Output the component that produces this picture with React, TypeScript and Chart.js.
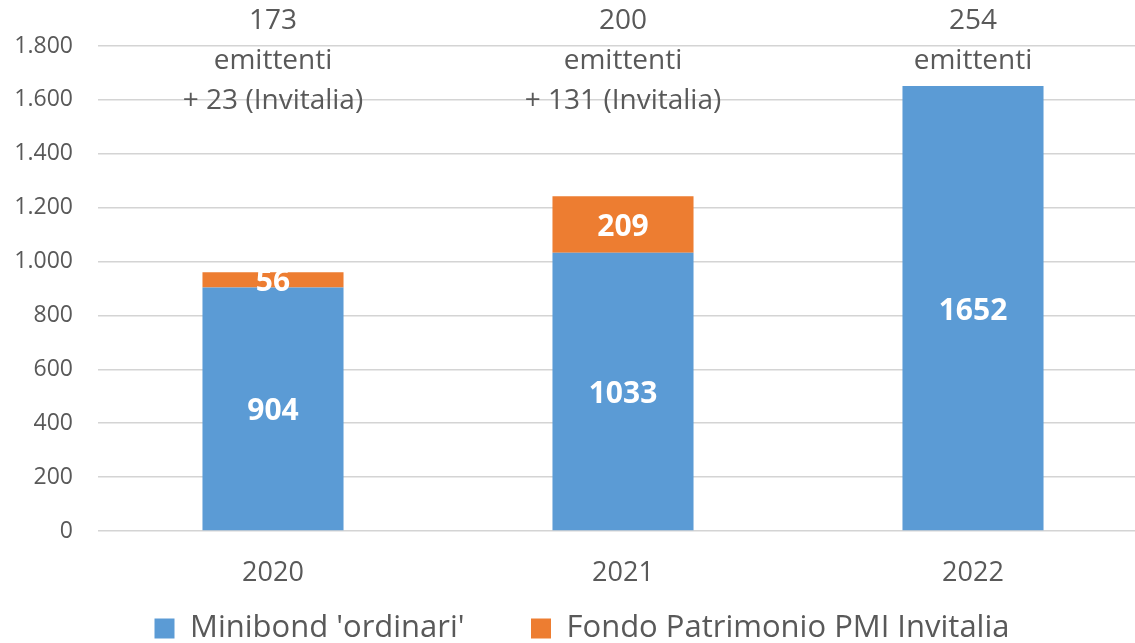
import React, { useEffect, useRef } from "react";
import { Chart, registerables } from "chart.js";

Chart.register(...registerables);

const categories = ["2020", "2021", "2022"];
const minibondOrdinari = [904, 1033, 1652];
const fondoInvitalia = [56, 209, 0];
const issuerCounts = ["173", "200", "254"];
const issuerWord = "emittenti";
const invitaliaExtra = ["+ 23 (Invitalia)", "+ 131 (Invitalia)", ""];
const seriesNames = ["Minibond 'ordinari'", "Fondo Patrimonio PMI Invitalia"];
const yTickMax = 1800;
const yTickStep = 200;

const FONT = "'Open Sans'";
const TEXT = "#595959";

function fmt(v: number): string {
  return String(v).replace(/\B(?=(\d{3})+(?!\d))/g, ".");
}

const dataLabelPlugin = {
  id: "dataLabels",
  afterDatasetsDraw(chart: any) {
    const ctx = chart.ctx;
    ctx.save();
    ctx.font = `bold 30px ${FONT}`;
    ctx.fillStyle = "#FFFFFF";
    ctx.textAlign = "center";
    ctx.textBaseline = "middle";
    chart.data.datasets.forEach((ds: any, di: number) => {
      const meta = chart.getDatasetMeta(di);
      meta.data.forEach((bar: any, i: number) => {
        const v = ds.data[i];
        if (!v) return;
        const y = (bar.y + bar.base) / 2;
        ctx.fillText(String(v), bar.x, y + 3);
      });
    });
    ctx.restore();
  },
};

const topNotesPlugin = {
  id: "topNotes",
  afterDraw(chart: any) {
    const ctx = chart.ctx;
    const xs = chart.scales.x;
    ctx.save();
    ctx.font = `28px ${FONT}`;
    ctx.fillStyle = TEXT;
    ctx.textAlign = "center";
    ctx.textBaseline = "middle";
    categories.forEach((_, i) => {
      const x = xs.getPixelForValue(i);
      const lines = [issuerCounts[i], issuerWord, invitaliaExtra[i]].filter((s) => s);
      lines.forEach((line, j) => {
        ctx.fillText(line, x, 21 + j * 40);
      });
    });
    ctx.restore();
  },
};

export default function App() {
  const ref = useRef<HTMLCanvasElement | null>(null);
  useEffect(() => {
    if (!ref.current) return;
    const chart = new Chart(ref.current, {
      type: "bar",
      data: {
        labels: categories,
        datasets: [
          {
            label: seriesNames[0],
            data: minibondOrdinari,
            backgroundColor: "#5B9BD5",
            categoryPercentage: 1,
            barPercentage: 0.403,
          },
          {
            label: seriesNames[1],
            data: fondoInvitalia,
            backgroundColor: "#ED7D31",
            categoryPercentage: 1,
            barPercentage: 0.403,
          },
        ],
      },
      options: {
        responsive: false,
        animation: false,
        maintainAspectRatio: false,
        layout: { padding: { top: 46, left: 16, right: 2, bottom: 0 } },
        plugins: {
          legend: {
            position: "bottom",
            labels: {
              boxWidth: 20,
              boxHeight: 20,
              padding: 10,
              color: TEXT,
              font: { family: FONT, size: 31 },
              generateLabels(chart: any) {
                const items = Chart.defaults.plugins.legend.labels.generateLabels(chart);
                items.forEach((it: any, i: number) => {
                  if (i < items.length - 1) it.text = it.text + "       ";
                });
                return items;
              },
            },
          },
          tooltip: { enabled: false },
        },
        scales: {
          x: {
            stacked: true,
            grid: { display: false, drawTicks: false },
            border: { display: false },
            ticks: { color: TEXT, font: { family: FONT, size: 27 }, padding: 26 },
            afterFit(scale: any) {
              scale.height = 72;
            },
          },
          y: {
            stacked: true,
            min: 0,
            max: yTickMax,
            grid: { color: "#D4D4D4", lineWidth: 1.5, drawTicks: false },
            border: { display: false },
            ticks: {
              stepSize: yTickStep,
              color: TEXT,
              font: { family: FONT, size: 23 },
              padding: 25,
              callback: (v: any) => fmt(Number(v)),
            },
            afterFit(scale: any) {
              scale.width = 82;
            },
          },
        },
      },
      plugins: [dataLabelPlugin, topNotesPlugin],
    });
    return () => chart.destroy();
  }, []);
  return (
    <div
      style={{
        position: "fixed",
        left: 0,
        top: 0,
        width: 1135,
        height: 643,
        overflow: "hidden",
        background: "#FFFFFF",
      }}
    >
      <canvas ref={ref} width={1150} height={654} style={{ width: 1150, height: 654, display: "block" }} />
    </div>
  );
}
